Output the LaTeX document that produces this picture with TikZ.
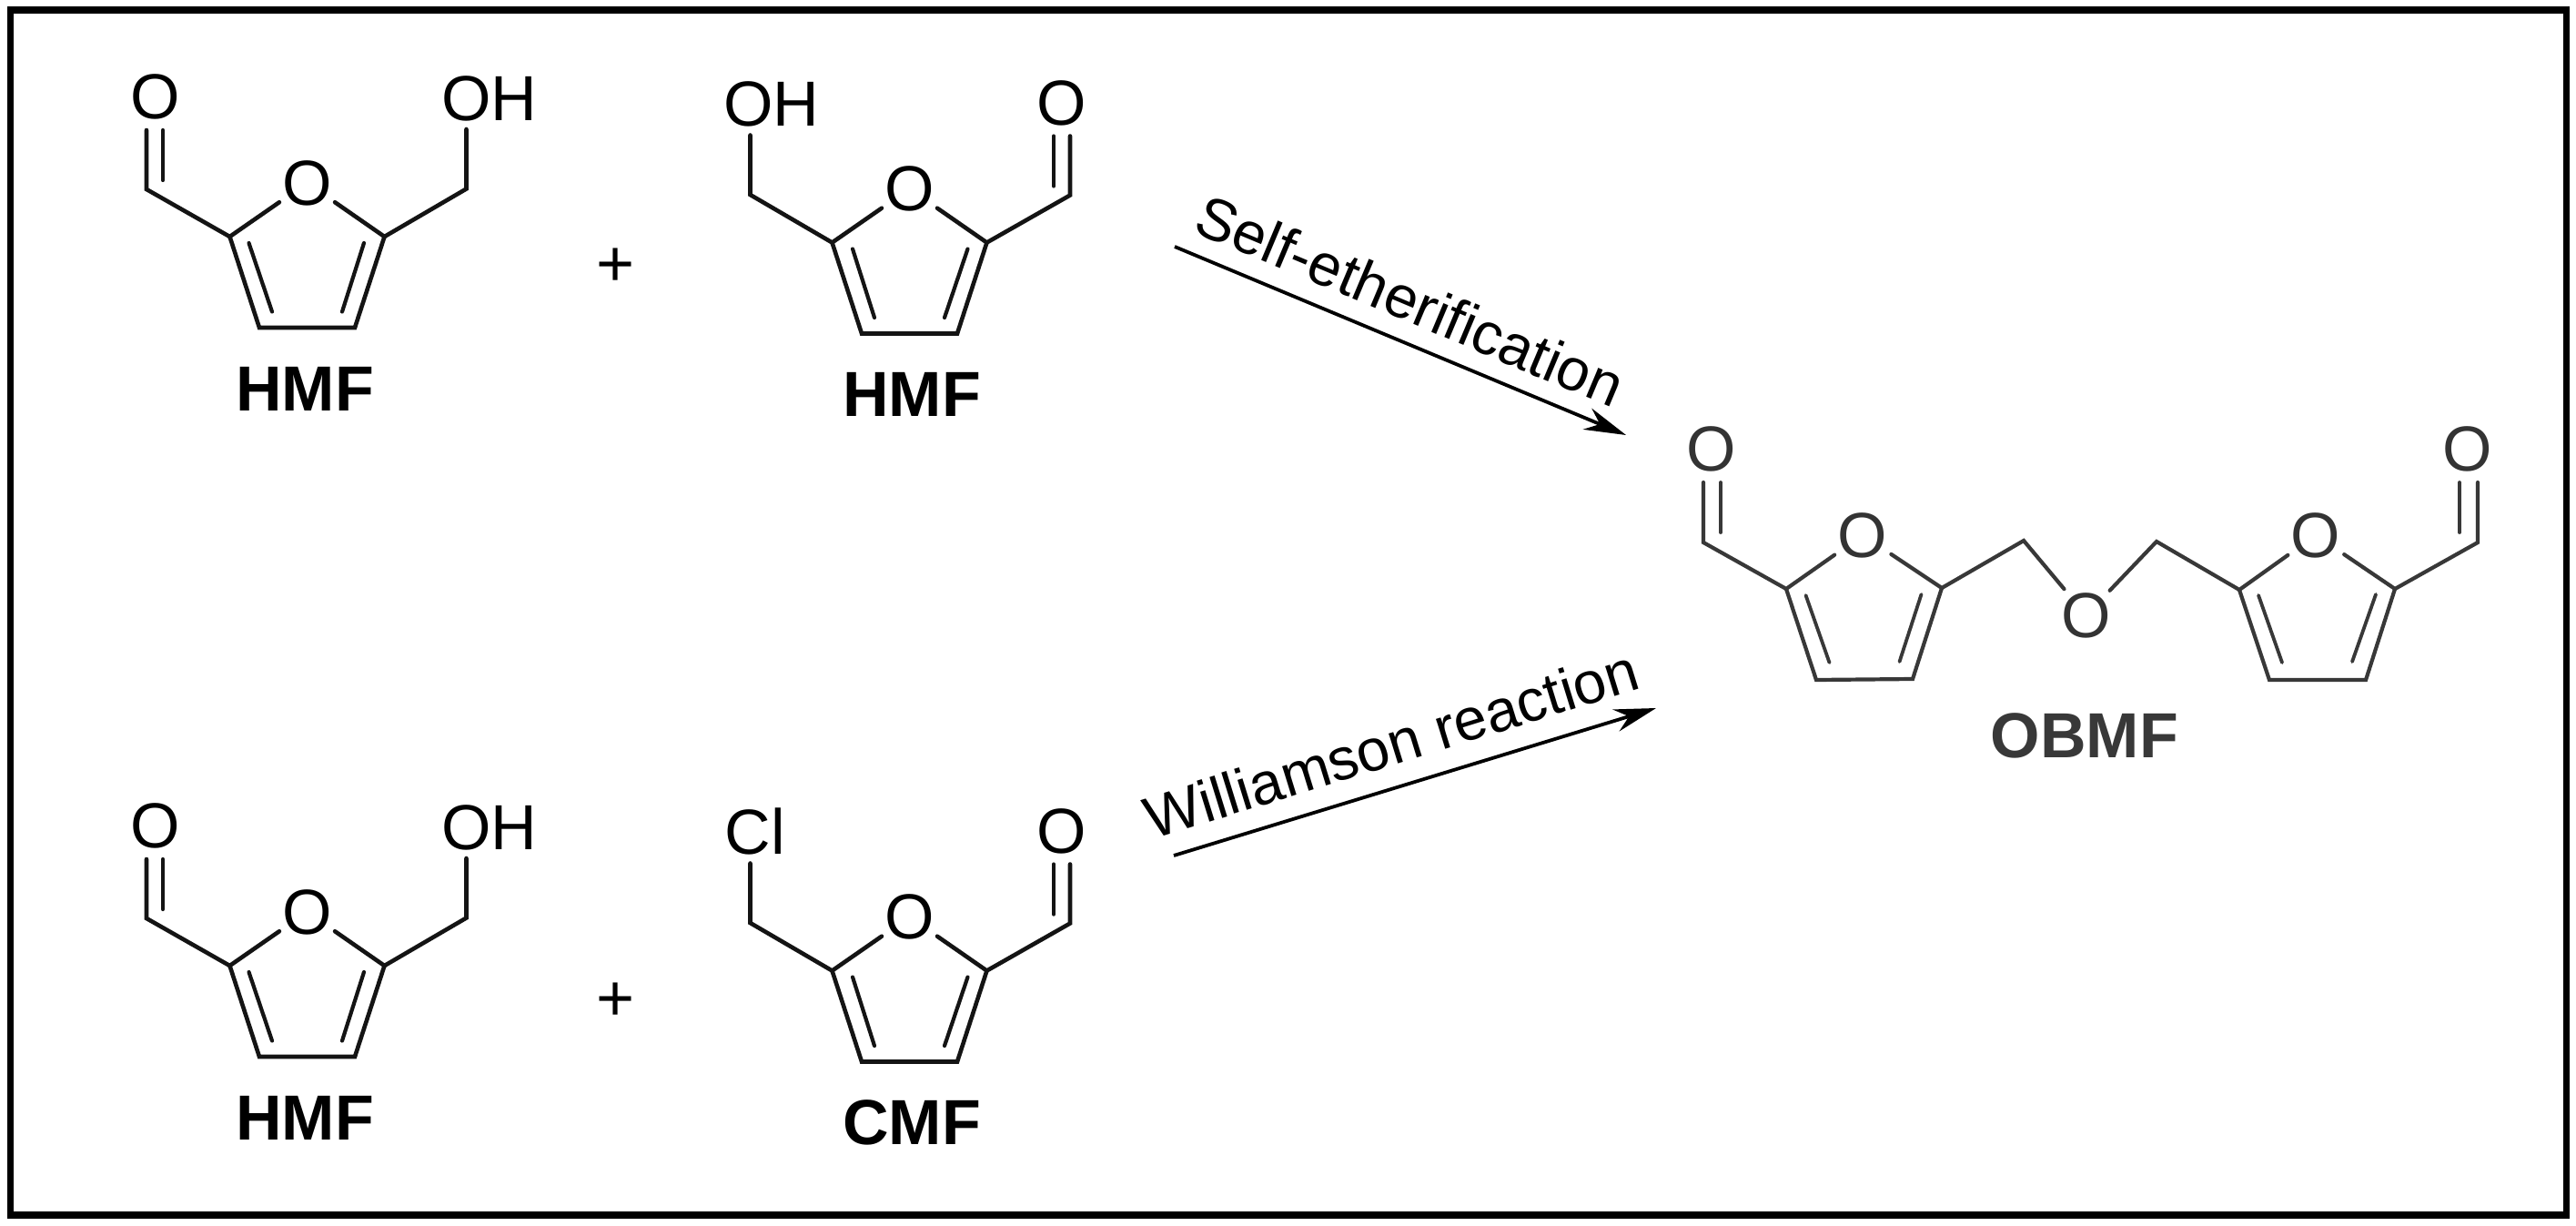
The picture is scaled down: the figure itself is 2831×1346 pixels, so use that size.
\documentclass[tikz,border=0pt]{standalone}
\usepackage{fontspec}
\setmainfont{Liberation Sans}
\usetikzlibrary{arrows.meta,calc}
\newcommand{\atomfont}{\fontsize{70}{80}\selectfont}
\newcommand{\namefont}{\fontsize{70}{80}\selectfont\bfseries}
\newcommand{\rxnfont}{\fontsize{65}{76}\selectfont}
\tikzset{
  bond/.style={line width=4.6pt,line cap=round,line join=miter,draw=black!92},
  innerbond/.style={line width=4.2pt,line cap=round,draw=black!92},
  darkbond/.style={line width=4.2pt,line cap=round,line join=miter,draw=black!78},
  darkinner/.style={line width=3.8pt,line cap=round,draw=black!78},
  ringatom/.style={circle,inner sep=0pt,minimum size=74pt,font=\atomfont,text=black},
  darkatom/.style={ringatom,text=black!80,minimum size=75pt},
  subst/.style={inner sep=0pt,outer sep=0pt,text height=52pt,text depth=0pt,minimum height=72pt,font=\atomfont,text=black},
  compound/.style={inner sep=0pt,font=\namefont,text=black},
  darkcompound/.style={compound,text=black!78},
  plussign/.style={inner sep=0pt,font=\fontsize{72}{80}\selectfont,text=black},
  rxnarrow/.style={line width=3.8pt,draw=black,-{Stealth[length=46pt,width=25pt]}},
  rxnlabel/.style={inner sep=0pt,font=\rxnfont,text=black},
}
% #1 prefix, #2 ring centre x, #3 y offset, #4 +1/-1 (aldehyde on the left/right),
% #5 substituent text, #6 x of the substituent label, #7 compound name
\newcommand{\furanmol}[7]{
  \begin{scope}[shift={(#2,#3)},xscale=#4]
    \node[ringatom] (#1ro) at (0,201) {O};
    \node[ringatom] (#1co) at (-167,106.5) {O};
    \coordinate (#1cho) at (-176.5,208);
    \coordinate (#1c2) at (-85,260);
    \coordinate (#1c3) at (-52.5,360);
    \coordinate (#1c4) at (52.5,360);
    \coordinate (#1c5) at (85,260);
    \coordinate (#1ch) at (175,207.5);
    \coordinate (#1dbl) at (-176.5,143);
    \coordinate (#1dbla) at (-158.5,143);
    \coordinate (#1dblb) at (-158.5,198);
    \coordinate (#1ia) at (-64,267);
    \coordinate (#1ib) at (-38.5,342.5);
    \coordinate (#1ic) at (62.5,267);
    \coordinate (#1id) at (38.5,342.5);
    \coordinate (#1top) at (175,142);
    \coordinate (#1name) at (-2.5,427);
  \end{scope}
  \node[subst,anchor=center] (#1sub) at (#6,{#3+106}) {#5};
  \node[compound] (#1lab) at (#1name) {#7};
  \draw[bond] (#1dbl) -- (#1cho) -- (#1c2) -- (#1ro);
  \draw[bond] (#1ro) -- (#1c5) -- (#1ch) -- (#1top);
  \draw[bond] (#1c2) -- (#1c3) -- (#1c4) -- (#1c5);
  \draw[innerbond] (#1dbla) -- (#1dblb);
  \draw[innerbond] (#1ia) -- (#1ib);
  \draw[innerbond] (#1ic) -- (#1id);
}
\begin{document}
\begin{tikzpicture}[x=1pt,y=-1pt]
\useasboundingbox (0,0) rectangle (2831,1346);
\fill[white] (0,0) rectangle (2831,1346);
\draw[line width=7.6pt,black] (11.5,11) rectangle (2820.5,1335);

\furanmol{a}{337.5}{0}{1}{OH}{538}{HMF}
\furanmol{b}{999.5}{6.5}{-1}{OH}{848}{HMF}
\furanmol{c}{337.5}{801}{1}{OH}{538}{HMF}
\furanmol{d}{999.5}{806.5}{-1}{Cl}{830}{CMF}

\node[plussign] (plusa) at (677,294) {+};
\node[plussign] (plusb) at (677,1101) {+};

% reaction arrows
\coordinate (s1) at (1291,271);
\coordinate (e1) at (1787,478);
\coordinate (s2) at (1290,940);
\coordinate (e2) at (1820,778);
\draw[rxnarrow] (s1) -- (e1);
\draw[rxnarrow] (s2) -- (e2);
\node[rxnlabel,rotate=-22.8] (selfl) at (1550,330) {Self-etherification};
\node[rxnlabel,rotate=17.2] (willl) at (1529,817) {Williamson reaction};

% OBMF
\node[darkatom] (ol) at (1881,493) {O};
\node[darkatom] (orl) at (2047,588) {O};
\node[darkatom] (ob) at (2292.6,676) {O};
\node[darkatom] (orr) at (2545,588) {O};
\node[darkatom] (orh) at (2712,493) {O};
\coordinate (chl) at (1872,596);
\coordinate (ltop) at (1872,530);
\coordinate (ldbla) at (1891,530);
\coordinate (ldblb) at (1891,585);
\coordinate (l2) at (1963,647);
\coordinate (l3) at (1996,747);
\coordinate (l4) at (2102,746);
\coordinate (l5) at (2134,646);
\coordinate (ml) at (2224,594);
\coordinate (mr) at (2370,595);
\coordinate (r2) at (2461,648);
\coordinate (r3) at (2494,747);
\coordinate (r4) at (2600,747);
\coordinate (r5) at (2632,647);
\coordinate (chr) at (2723,596);
\coordinate (rtop) at (2723,530);
\coordinate (rdbla) at (2703,530);
\coordinate (rdblb) at (2703,585);
\coordinate (ia) at (1984.5,654);
\coordinate (ib) at (2010.5,728);
\coordinate (ic) at (2111.5,653);
\coordinate (id) at (2087.5,727);
\coordinate (ie) at (2482,654);
\coordinate (if) at (2508,728);
\coordinate (ig) at (2611,653);
\coordinate (ih) at (2585,727);
\draw[darkbond] (ltop) -- (chl) -- (l2) -- (orl);
\draw[darkbond] (orl) -- (l5) -- (ml) -- (ob);
\draw[darkbond] (ob) -- (mr) -- (r2) -- (orr);
\draw[darkbond] (orr) -- (r5) -- (chr) -- (rtop);
\draw[darkbond] (l2) -- (l3) -- (l4) -- (l5);
\draw[darkbond] (r2) -- (r3) -- (r4) -- (r5);
\draw[darkinner] (ldbla) -- (ldblb);
\draw[darkinner] (rdbla) -- (rdblb);
\draw[darkinner] (ia) -- (ib);
\draw[darkinner] (ic) -- (id);
\draw[darkinner] (ie) -- (if);
\draw[darkinner] (ig) -- (ih);
\node[darkcompound] (obmf) at (2291,808) {OBMF};
\end{tikzpicture}
\end{document}
